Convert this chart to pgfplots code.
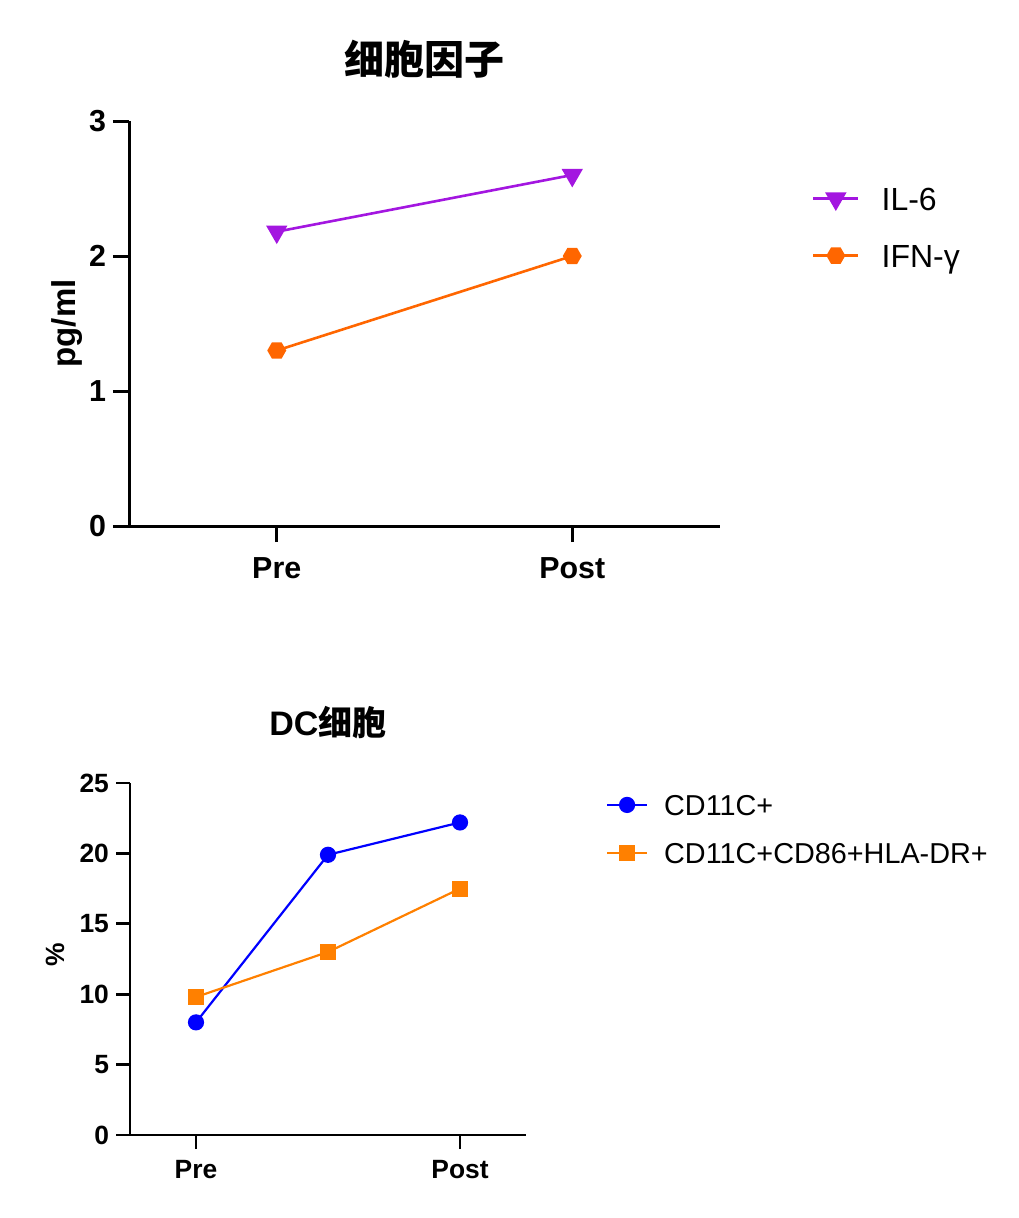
\documentclass[border=0pt]{standalone}
\usepackage{fontspec}
\setmainfont{Liberation Sans}
\newfontfamily\cjk{Noto Sans CJK SC}
\usepackage{pgfplots}
\pgfplotsset{compat=1.18}

\definecolor{ilsix}{RGB}{163,22,224}
\definecolor{ifng}{RGB}{255,102,0}
\definecolor{cdblue}{RGB}{0,0,255}
\definecolor{cdorange}{RGB}{255,128,0}

% filled hexagon with pointed left/right corners
\pgfdeclareplotmark{hexagon*}{%
  \pgfpathmoveto{\pgfpointpolar{0}{\pgfplotmarksize}}%
  \pgfpathlineto{\pgfpointpolar{60}{\pgfplotmarksize}}%
  \pgfpathlineto{\pgfpointpolar{120}{\pgfplotmarksize}}%
  \pgfpathlineto{\pgfpointpolar{180}{\pgfplotmarksize}}%
  \pgfpathlineto{\pgfpointpolar{240}{\pgfplotmarksize}}%
  \pgfpathlineto{\pgfpointpolar{300}{\pgfplotmarksize}}%
  \pgfpathclose
  \pgfusepathqfillstroke
}

\pgfplotsset{
  prism/.style={
    scale only axis,
    axis lines=left,
    axis line style={-},
    tick align=outside,
    clip=false,
    /pgf/number format/assume math mode=true,
    legend cell align=left,
  },
}

\begin{document}
\begin{tikzpicture}
\useasboundingbox (0,0) rectangle (509pt,-609pt);

% cytokines
\begin{axis}[
  prism,
  at={(64.5pt,-263pt)}, anchor=south west,
  width=295.5pt, height=202.5pt,
  xmin=-0.5, xmax=1.5, ymin=0, ymax=3,
  xtick={0,1}, xticklabels={Pre,Post},
  ytick={0,1,2,3},
  axis line style={line width=1.5pt},
  major tick length=8pt,
  every tick/.style={line width=1.5pt, black},
  tick label style={font=\fontsize{15.2}{18}\selectfont\bfseries},
  xticklabel style={yshift=-4.5pt},
  title={\cjk\bfseries 细胞因子},
  title style={at={(0.5,1)}, anchor=center, yshift=25pt, font=\fontsize{20}{24}\selectfont},
  ylabel={pg/ml},
  ylabel style={at={(axis description cs:-0.105,0.5)}, anchor=center, font=\fontsize{16.5}{20}\selectfont\bfseries},
  legend style={at={(1.1557,0.8365)}, anchor=north west, draw=none, fill=none,
    inner sep=0pt, outer sep=0pt, row sep=17.1pt, column sep=11pt,
    nodes={inner sep=0pt, text height=11.4pt, text depth=0pt},
    font=\fontsize{16}{19}\selectfont},
  legend image code/.code={\draw[mark repeat=2,mark phase=2,#1]
    plot coordinates {(0pt,0pt) (11.25pt,0pt) (22.5pt,0pt)};},
]
\addplot[color=ilsix, line width=1.3pt, mark=triangle*, mark size=4.9pt,
  mark options={rotate=180, solid}] coordinates {(0,2.18) (1,2.6)};
\addlegendentry{IL-6}
\addplot[color=ifng, line width=1.3pt, mark=hexagon*, mark size=4pt]
  coordinates {(0,1.3) (1,2.0)};
\addlegendentry{IFN-γ}
\end{axis}

% dendritic cells
\begin{axis}[
  prism,
  at={(65pt,-567.5pt)}, anchor=south west,
  width=198pt, height=176pt,
  xmin=-0.5, xmax=2.5, ymin=0, ymax=25,
  xtick={0,2}, xticklabels={Pre,Post},
  ytick={0,5,10,15,20,25},
  axis line style={line width=1.35pt},
  major tick length=7pt,
  every tick/.style={line width=1.35pt, black},
  tick label style={font=\fontsize{13.2}{16}\selectfont\bfseries},
  xticklabel style={yshift=-2pt},
  title={\bfseries DC{\cjk 细胞}},
  title style={at={(0.5,1)}, anchor=center, yshift=24pt, font=\fontsize{17}{20}\selectfont},
  ylabel={\%},
  ylabel style={at={(axis description cs:-0.189,0.511)}, anchor=center, font=\fontsize{13.2}{16}\selectfont\bfseries},
  legend style={at={(1.202,0.967)}, anchor=north west, draw=none, fill=none,
    inner sep=0pt, outer sep=0pt, row sep=13.7pt, column sep=8pt,
    nodes={inner sep=0pt, text height=10.3pt, text depth=0pt},
    font=\fontsize{14.4}{17}\selectfont},
  legend image code/.code={\draw[mark repeat=2,mark phase=2,#1]
    plot coordinates {(0pt,0pt) (10pt,0pt) (20pt,0pt)};},
]
\addplot[color=cdblue, line width=1.1pt, mark=*, mark size=3.5pt]
  coordinates {(0,8.0) (1,19.9) (2,22.2)};
\addlegendentry{CD11C+}
\addplot[color=cdorange, line width=1.1pt, mark=square*, mark size=3.5pt]
  coordinates {(0,9.8) (1,13.0) (2,17.5)};
\addlegendentry{CD11C+CD86+HLA-DR+}
\end{axis}
\end{tikzpicture}
\end{document}
